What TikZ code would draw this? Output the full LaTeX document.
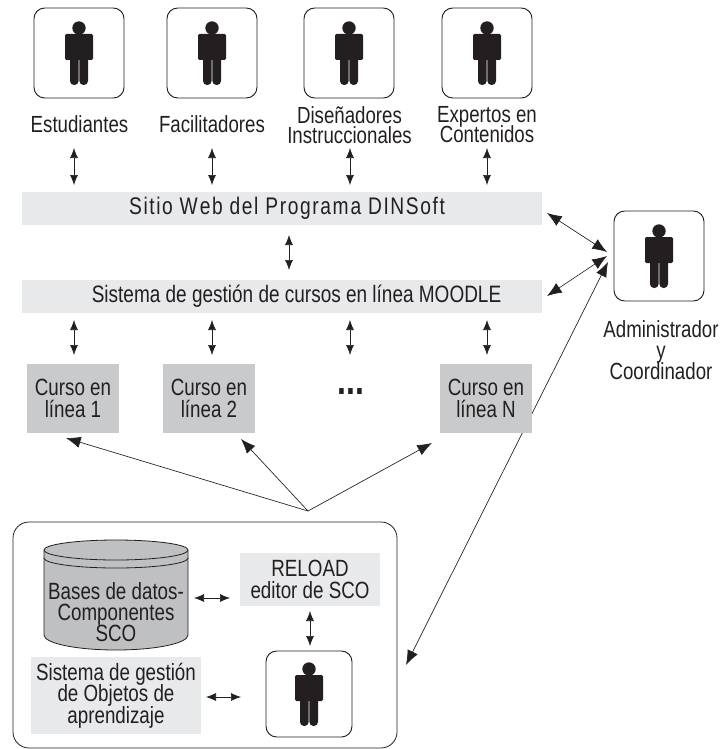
\documentclass[tikz,border=0pt]{standalone}
\usepackage{fontspec}
\setmainfont[FakeStretch=0.8]{Liberation Sans}
\usetikzlibrary{arrows.meta,positioning}
\definecolor{barra}{HTML}{E8E9EB}
\definecolor{curso}{HTML}{C9CACC}
\definecolor{cilindro}{HTML}{BFC0C2}
\definecolor{tinta}{HTML}{231F20}
\lineskiplimit=-20pt
\tikzset{
  caja/.style={draw=tinta,line width=0.7pt,rounded corners=8pt,minimum width=67.5pt,minimum height=67.5pt,inner sep=0pt},
  etiqueta/.style={font=\fontsize{17.5}{15}\selectfont,align=center,text=tinta,inner sep=0pt},
  barraweb/.style={fill=barra,minimum width=390pt,minimum height=24.7pt,inner sep=0pt,text=tinta},
  cursobox/.style={fill=curso,minimum width=69pt,minimum height=52pt,inner sep=0pt,align=center,font=\fontsize{17.6}{16}\selectfont,text=tinta},
  grisbox/.style={fill=barra,inner sep=0pt,align=center,font=\fontsize{17.6}{16}\selectfont,text=tinta},
  flecha/.style={{Latex[length=7.5pt,width=6pt]}-{Latex[length=7.5pt,width=6pt]},line width=0.5pt,draw=tinta},
  flechag/.style={{Latex[length=11pt,width=8.5pt]}-{Latex[length=11pt,width=8.5pt]},line width=0.5pt,draw=tinta},
  punta/.style={-{Latex[length=11pt,width=8.5pt]},line width=0.5pt,draw=tinta},
  persona/.pic={
    \fill[tinta] (0,-25) circle (6.7);
    \fill[tinta,rounded corners=1pt] (-14,-19) rectangle (14,7);
    \fill[tinta,rounded corners=3pt] (-9,-5) rectangle (-0.4,32);
    \fill[tinta,rounded corners=3pt] (0.4,-5) rectangle (9,32);
  }
}
\begin{document}
\begin{tikzpicture}[x=0.75pt,y=-0.75pt]
\useasboundingbox (0,0) rectangle (727,749);

% la flecha larga pasa por debajo del curso N
\coordinate (adminsur) at (608,262);
\coordinate (marcosur) at (406,665);
\draw[flechag] (adminsur) -- (marcosur);

% usuarios
\node[caja] (cajaest) at (79,53) {};
\node[caja] (cajafac) at (212,53) {};
\node[caja] (cajadis) at (349,53) {};
\node[caja] (cajaexp) at (487,53) {};
\node[caja] (cajaadm) at (659,256) {};
\pic at (cajaest) {persona};
\pic at (cajafac) {persona};
\pic at (cajadis) {persona};
\pic at (cajaexp) {persona};
\pic at (cajaadm) {persona};

\node[etiqueta] (estudiantes) at (79.5,124) {Estudiantes};
\node[etiqueta] (facilitadores) at (212,124) {Facilitadores};
\node[etiqueta] (disenadores) at (349.5,125) {Diseñadores\\Instruccionales};
\node[etiqueta] (expertos) at (487,125) {Expertos en\\Contenidos};
\node[etiqueta,font=\fontsize{17.5}{16}\selectfont] (admin) at (661,350) {Administrador\\y\\Coordinador};

% barras
\node[barraweb,font=\fontsize{18}{18}\selectfont\addfontfeature{LetterSpace=6.6}] (web) at (282,208.5) {\hspace*{7.5pt}Sitio W\kern1.5pt eb del Program\kern1.5pt a DINSoft};
\node[barraweb,font=\fontsize{17.8}{18}\selectfont] (moodle) at (282,296.5) {\hspace*{21.8pt}Sistema de gestión de cursos en línea MOODLE};

% cursos
\node[cursobox] (curso1) at (73,398.5) {Curso en\\línea 1};
\node[cursobox] (curso2) at (209,398.5) {Curso en\\línea 2};
\node[cursobox] (cursoN) at (486,398.5) {Curso en\\línea N};
\node[font=\bfseries\fontsize{30}{30}\selectfont,text=tinta,inner sep=0pt] (puntos) at (351,392) {...};

\draw[flecha] (74,148) -- (74,185);
\draw[flecha] (212,148) -- (212,185);
\draw[flecha] (350,148) -- (350,185);
\draw[flecha] (487,148) -- (487,185);
\draw[flecha] (289,235) -- (289,270);
\draw[flecha] (74,320) -- (74,355);
\draw[flecha] (212,320) -- (212,355);
\draw[flecha] (350,320) -- (350,355);
\draw[flecha] (487,320) -- (487,355);

\coordinate (webeste) at (547,213);
\coordinate (moodleeste) at (547,296);
\coordinate (adminweb) at (607,252);
\coordinate (adminmoodle) at (607,256);
\draw[flechag] (webeste) -- (adminweb);
\draw[flechag] (moodleeste) -- (adminmoodle);

% abanico
\coordinate (vertice) at (308,511);
\coordinate (fin1) at (66,438);
\coordinate (fin2) at (241,439);
\coordinate (finN) at (432,443);
\draw[punta] (vertice) -- (fin1);
\draw[punta] (vertice) -- (fin2);
\draw[punta] (vertice) -- (finN);

% marco inferior
\node[draw=tinta,line width=0.6pt,rounded corners=12pt,minimum width=288pt,minimum height=169.5pt,inner sep=0pt] (marco) at (205,635) {};

% cilindro
\fill[cilindro,draw=tinta,line width=0.6pt] (44,550) -- (44,635) arc[start angle=180,end angle=0,x radius=72,y radius=15] -- (188,550) arc[start angle=0,end angle=-180,x radius=72,y radius=10] -- cycle;
\draw[tinta,line width=0.6pt] (44,550) arc[start angle=180,end angle=0,x radius=72,y radius=10];
\draw[tinta,line width=0.6pt] (44,558) arc[start angle=180,end angle=0,x radius=72,y radius=10];
\node[inner sep=0pt,align=center,font=\fontsize{17.6}{16}\selectfont,text=tinta] (bases) at (116,612) {Bases de datos-\\Componentes\\SCO};

\node[grisbox,minimum width=105pt,minimum height=39.5pt] (reload) at (310,579.5) {RELOAD\\editor de SCO};
\node[grisbox,minimum width=127.5pt,minimum height=57.5pt] (sga) at (116,695.5) {Sistema de gestión\\de Objetos de\\aprendizaje};
\node[caja,minimum width=64.5pt,minimum height=64.5pt] (cajaobj) at (309,694) {};
\pic at (cajaobj) {persona};

\draw[flecha] (194,598) -- (230,598);
\draw[flecha] (310,611) -- (310,646);
\draw[flecha] (206,697) -- (241,697);
\end{tikzpicture}
\end{document}
